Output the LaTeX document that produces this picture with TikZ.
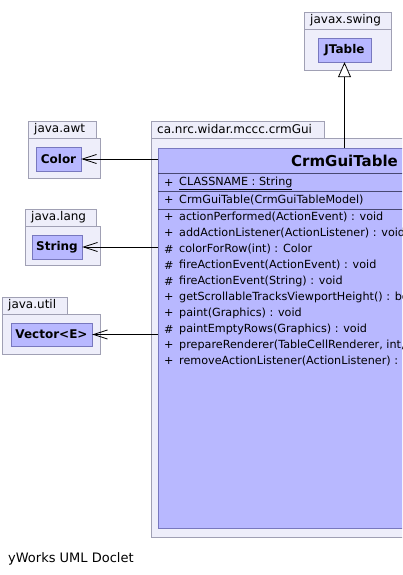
\documentclass[tikz,border=0pt]{standalone}
\usepackage{fontspec}
\setmainfont{DejaVu Sans}
\usetikzlibrary{arrows.meta}
\definecolor{pkgfill}{RGB}{238,238,250}
\definecolor{pkgline}{RGB}{160,160,180}
\definecolor{clsfill}{RGB}{184,184,255}
\definecolor{clsline}{RGB}{120,120,190}
\begin{document}
\begin{tikzpicture}[x=1pt, y=-1pt,
  pkgtab/.style={draw=pkgline, fill=pkgfill, anchor=south west, minimum height=17pt, inner xsep=6pt, inner ysep=0pt, align=left, font=\fontsize{12}{14}\selectfont},
  pkgbody/.style={draw=pkgline, fill=pkgfill, anchor=north west, inner sep=0pt},
  cls/.style={draw=clsline, fill=clsfill, inner sep=0pt, font=\fontsize{12}{14}\selectfont\bfseries},
  vis/.style={anchor=west, inner sep=0pt, font=\fontsize{11.2}{14}\selectfont},
  member/.style={anchor=west, inner sep=0pt, font=\fontsize{11.2}{14}\selectfont},
  dep/.style={draw, thick, -{Straight Barb[length=14pt, width=9pt]}},
  gen/.style={draw, thick, -{Triangle[open, length=15pt, width=13pt, fill=white]}}]
\useasboundingbox[fill=white] (0,0) rectangle (402,575);
\clip (0,0) rectangle (402,575);
% javax.swing
\node[pkgtab, text width=75pt] (swingtab) at (304,29) {javax.swing};
\node[pkgbody, minimum width=87pt, minimum height=41pt] (swing) at (304,29) {};
\node[cls, minimum width=53pt, minimum height=24pt] (jtable) at (344.5,50) {JTable};
% java.awt
\node[pkgtab, text width=56pt] (awttab) at (28,138) {java.awt};
\node[pkgbody, minimum width=72pt, minimum height=40pt] (awt) at (28,138) {};
\node[cls, minimum width=45pt, minimum height=24pt] (color) at (58.5,159) {Color};
% java.lang
\node[pkgtab, text width=59pt] (langtab) at (25,226) {java.lang};
\node[pkgbody, minimum width=75pt, minimum height=39pt] (lang) at (25,226) {};
\node[cls, minimum width=50pt, minimum height=24pt] (string) at (57,247) {String};
% java.util
\node[pkgtab, text width=53pt] (utiltab) at (2,314) {java.util};
\node[pkgbody, minimum width=98pt, minimum height=40pt] (util) at (2,314) {};
\node[cls, minimum width=81pt, minimum height=23pt] (vector) at (51.5,334.5) {Vector<E>};
% ca.nrc.widar.mccc.crmGui
\node[pkgtab, text width=161pt] (guitab) at (151,138) {ca.nrc.widar.mccc.crmGui};
\node[pkgbody, minimum width=300pt, minimum height=399pt] (gui) at (151,138) {};
\node[cls, anchor=north west, minimum width=290pt, minimum height=380pt] (crmgui) at (158,148) {};
\node[anchor=east, inner sep=0pt, font=\fontsize{15}{18}\selectfont\bfseries] (crmguiname) at (398,161) {CrmGuiTable};
\draw[clsline!60!black] (158,173) -- (448,173);
\draw[clsline!60!black] (158,191) -- (448,191);
\draw[clsline!60!black] (158,209) -- (448,209);
\node[vis] (v0) at (164,183) {+};
\node[member] (m0) at (179,183) {\underline{CLASSNAME : String}};
\node[vis] (v1) at (164,200) {+};
\node[member] (m1) at (179,200) {CrmGuiTable(CrmGuiTableModel)};
\node[vis] (v2) at (164,217) {+};
\node[member] (m2) at (179,217) {actionPerformed(ActionEvent) : void};
\node[vis] (v3) at (164,233) {+};
\node[member] (m3) at (179,233) {addActionListener(ActionListener) : void};
\node[vis] (v4) at (164,249) {\#};
\node[member] (m4) at (179,249) {colorForRow(int) : Color};
\node[vis] (v5) at (164,265) {\#};
\node[member] (m5) at (179,265) {fireActionEvent(ActionEvent) : void};
\node[vis] (v6) at (164,281) {\#};
\node[member] (m6) at (179,281) {fireActionEvent(String) : void};
\node[vis] (v7) at (164,297) {+};
\node[member] (m7) at (179,297) {getScrollableTracksViewportHeight() : boolean};
\node[vis] (v8) at (164,313) {+};
\node[member] (m8) at (179,313) {paint(Graphics) : void};
\node[vis] (v9) at (164,329) {\#};
\node[member] (m9) at (179,329) {paintEmptyRows(Graphics) : void};
\node[vis] (v10) at (164,345) {+};
\node[member] (m10) at (179,345) {prepareRenderer(TableCellRenderer, int, int) : Component};
\node[vis] (v11) at (164,361) {+};
\node[member] (m11) at (179,361) {removeActionListener(ActionListener) : void};
% connectors
\draw[gen] (crmgui.north -| jtable.south) -- (jtable.south);
\draw[dep] (crmgui.west |- color.east) -- (color.east);
\draw[dep] (crmgui.west |- string.east) -- (string.east);
\draw[dep] (crmgui.west |- vector.east) -- (vector.east);
\node[anchor=west, inner sep=0pt, font=\fontsize{13}{16}\selectfont] (footer) at (8,559) {yWorks UML Doclet};
\end{tikzpicture}
\end{document}
